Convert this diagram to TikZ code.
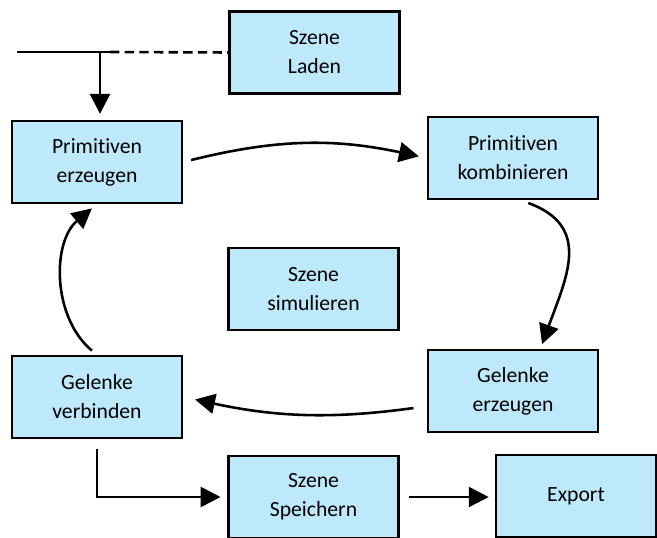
\documentclass[tikz,border=0pt]{standalone}
\usepackage{fontspec}
\setmainfont[Ligatures=NoCommon]{Carlito}
\usetikzlibrary{positioning,arrows.meta}
\definecolor{boxblue}{RGB}{190,233,251}

\begin{document}
\begin{tikzpicture}[x=0.03cm,y=-0.03cm,
  stage/.style={draw,line width=2.2pt,fill=boxblue,minimum width=5.1cm,minimum height=2.45cm,align=center,font=\fontsize{18.5}{24.7}\selectfont},
  flow/.style={line width=2.2pt,-{Triangle[length=17pt,width=17pt]}}]
\useasboundingbox (0,0) rectangle (657,537);
\node[stage](laden) at (314.5,52.5){Szene\\Laden};
\node[stage](perz) at (97,162){Primitiven\\erzeugen};
\node[stage](pkomb) at (513,158){Primitiven\\kombinieren};
\node[stage](sim) at (313.5,289){Szene\\simulieren};
\node[stage](gerz) at (513,391){Gelenke\\erzeugen};
\node[stage](gverb) at (97,397){Gelenke\\verbinden};
\node[stage](speich) at (313.5,497){Szene\\Speichern};
\node[stage, minimum width=4.8cm](export) at (576,496){Export};
\coordinate (start) at (17,52);
\coordinate (branch) at (100,52);
\coordinate (solidend) at (110,52);
\draw[line width=2.2pt] (start) -- (solidend);
\draw[line width=2.2pt,dash pattern=on 8pt off 4.5pt] (solidend) -- (laden.west);
\draw[flow,shorten >=0.18cm] (branch) -- (branch |- perz.north);
\draw[flow,shorten <=0.24cm,shorten >=0.24cm] (perz.east) to[bend left=13] (pkomb.west);
\draw[flow,shorten <=0.25cm,shorten >=0.15cm] (pkomb.-80) to[out=-20,in=70,looseness=1.3] (gerz.57);
\draw[flow,shorten <=0.4cm,shorten >=0.36cm] (gerz.190) to[bend left=10] (gverb.east);
\draw[flow,shorten <=0.2cm,shorten >=0.2cm] (gverb.north) to[bend left=50] (perz.south);
\draw[flow,shorten <=0.3cm,shorten >=0.2cm] (gverb.south) |- (speich.west);
\draw[flow,shorten <=0.27cm,shorten >=0.18cm] (speich.east) -- (speich.east -| export.west);
\end{tikzpicture}
\end{document}
